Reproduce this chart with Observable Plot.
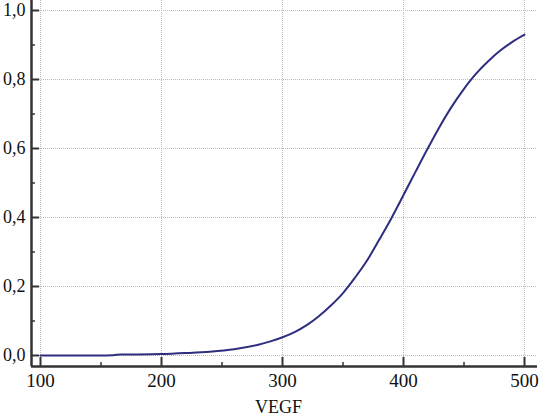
<!DOCTYPE html>
<html>
<head>
<meta charset="utf-8">
<script src="https://cdn.jsdelivr.net/npm/d3@7"></script>
<script src="https://cdn.jsdelivr.net/npm/@observablehq/plot@0.6"></script>
<style>
  html, body { margin: 0; padding: 0; background: #fff; }
  #chart { width: 539px; height: 416px; }
  #chart svg, #chart svg text { font-family: 'Liberation Serif', 'Times New Roman', serif !important; }
</style>
</head>
<body>
<div id="chart"></div>
<script>
const vegf = [100, 120, 140, 160, 166, 180, 200, 220, 240, 260, 280, 290, 300, 310, 320, 330, 340, 350, 360, 370, 380, 390, 400, 410, 420, 430, 440, 450, 460, 470, 480, 490, 500];
const prob = [0, 0, 0, 0.001, 0.003, 0.003, 0.004, 0.007, 0.011, 0.018, 0.031, 0.041, 0.053, 0.068, 0.088, 0.114, 0.145, 0.181, 0.226, 0.276, 0.336, 0.398, 0.465, 0.533, 0.6, 0.664, 0.722, 0.773, 0.817, 0.853, 0.884, 0.909, 0.93];
const xTicks = [100, 200, 300, 400, 500];
const xMinor = [150, 250, 350, 450];
const yTicks = [0, 0.2, 0.4, 0.6, 0.8, 1.0];
const yMinor = [0.1, 0.3, 0.5, 0.7, 0.9];
const xDomain = [92.56, 510.74];
const yDomain = [-0.0319, 1.029];
const xLabel = "VEGF";

const data = vegf.map((v, i) => ({x: v, y: prob[i]}));
const fmt = d => d3.format(".1f")(d).replace(".", ",");
const font = "'Liberation Serif', 'Times New Roman', serif";

const chart = Plot.plot({
  width: 539,
  height: 416,
  marginLeft: 31,
  marginRight: 2,
  marginTop: 0,
  marginBottom: 50,
  style: `font-family: ${font}; background: #fff;`,
  x: {domain: xDomain},
  y: {domain: yDomain},
  marks: [
    Plot.ruleX(xTicks, {stroke: "#bdbdbd", strokeDasharray: "1,1", strokeWidth: 1}),
    Plot.ruleY(yTicks, {stroke: "#bdbdbd", strokeDasharray: "1,1", strokeWidth: 1}),
    Plot.line(data, {x: "x", y: "y", stroke: "#2e2e80", strokeWidth: 2, curve: "catmull-rom"}),
    Plot.ruleX([xDomain[0]], {stroke: "#333", strokeWidth: 2.5}),
    Plot.ruleY([yDomain[0]], {stroke: "#333", strokeWidth: 2.5}),
    Plot.axisX(xTicks, {tickSize: -9, tickFormat: () => "", stroke: "#333", strokeWidth: 2, label: null}),
    Plot.axisX(xMinor, {tickSize: -4, tickFormat: () => "", stroke: "#333", strokeWidth: 1.5, label: null}),
    Plot.axisX(xTicks, {tickSize: 0, tickPadding: 7, fontSize: 19, fill: "#111", label: null, fontFamily: font}),
    Plot.axisY(yTicks, {tickSize: -8, tickFormat: () => "", stroke: "#333", strokeWidth: 2, label: null}),
    Plot.axisY(yMinor, {tickSize: -4, tickFormat: () => "", stroke: "#333", strokeWidth: 1.5, label: null}),
    Plot.axisY(yTicks, {tickSize: 0, tickPadding: 6, fontSize: 18, fill: "#111", tickFormat: fmt, label: null, fontFamily: font}),
    Plot.text([xLabel], {frameAnchor: "bottom", lineAnchor: "top", dy: 34, dx: -6, fontSize: 18, fill: "#111", text: d => d, fontFamily: font})
  ]
});
document.getElementById("chart").appendChild(chart);
</script>
</body>
</html>
